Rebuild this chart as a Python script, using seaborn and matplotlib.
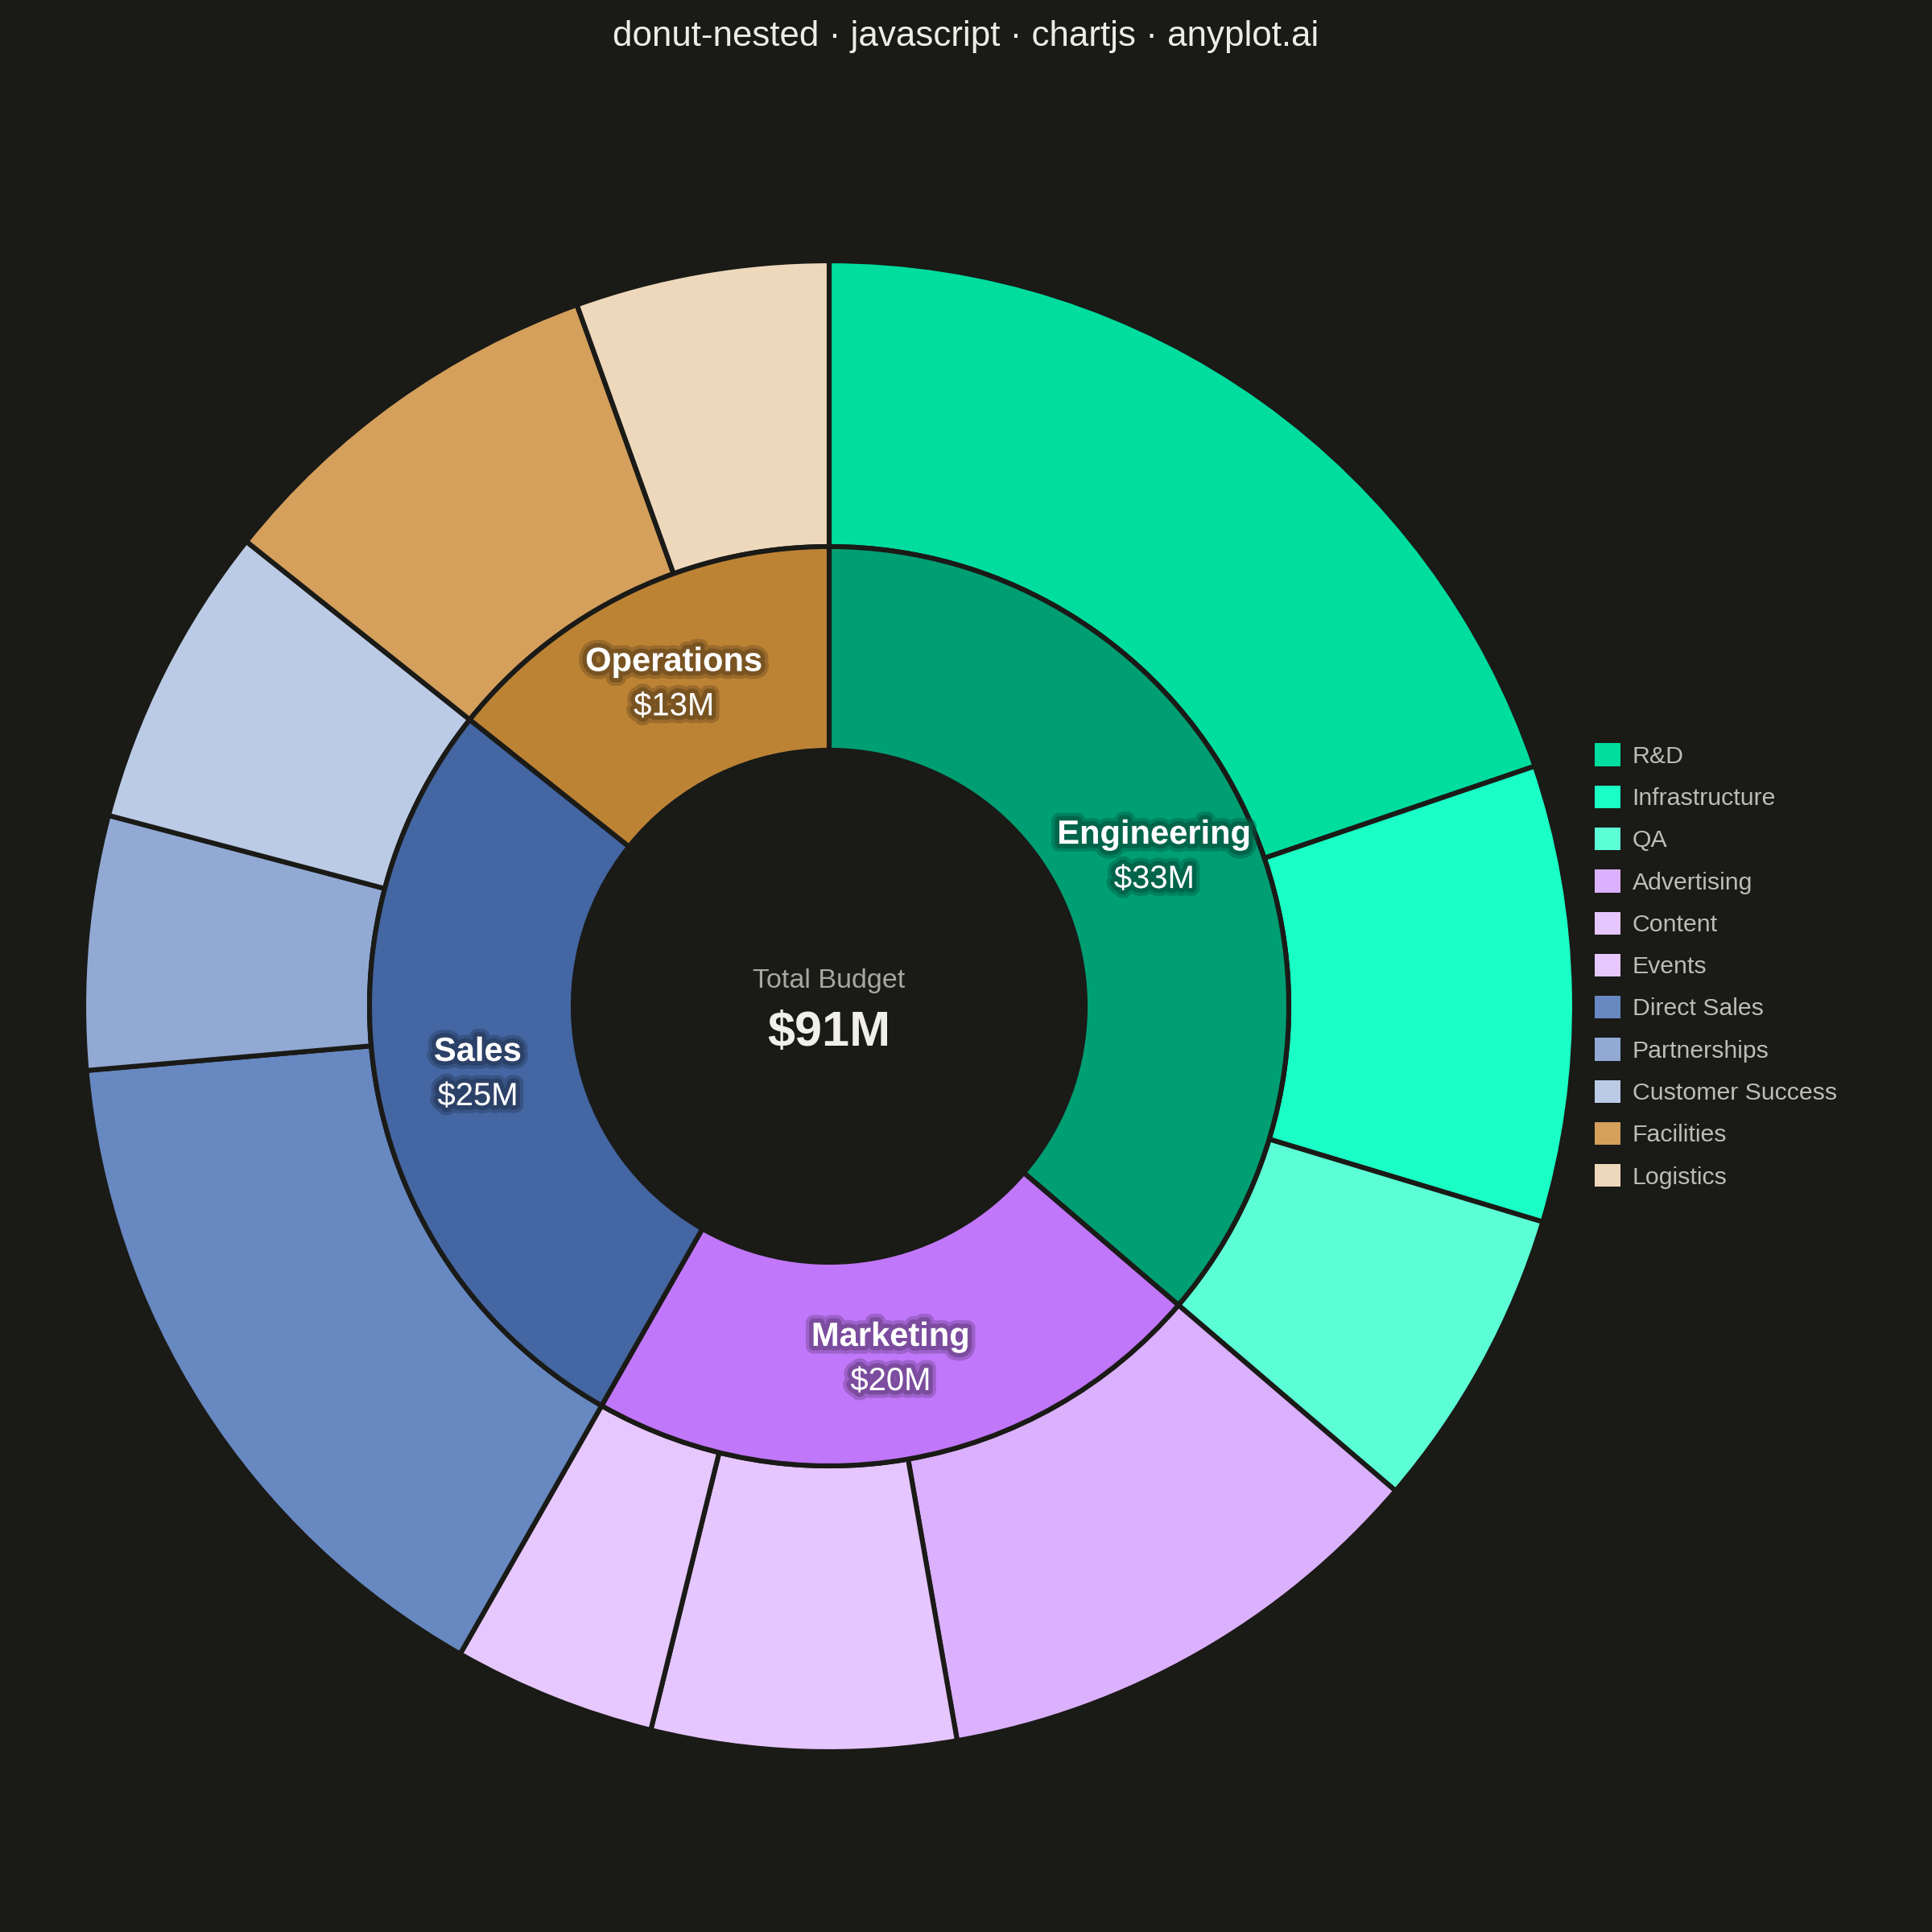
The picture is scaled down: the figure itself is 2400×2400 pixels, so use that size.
import numpy as np
import matplotlib
matplotlib.use("Agg")
import matplotlib.pyplot as plt
import matplotlib.patheffects as pe
from matplotlib.patches import Patch
import matplotlib.colors as mcolors
import seaborn as sns

# ---------------- data ----------------
departments = ["Engineering", "Marketing", "Sales", "Operations"]
dept_values = [33, 20, 25, 13]
subcategories = ["R&D", "Infrastructure", "QA",
                 "Advertising", "Content", "Events",
                 "Direct Sales", "Partnerships", "Customer Success",
                 "Facilities", "Logistics"]
sub_values = [18, 9, 6, 10, 6, 4, 14, 5, 6, 8, 5]

# ---------------- styles ----------------
BG = "#1A1A17"
dept_colors = ["#009E73", "#C177F9", "#4466A2", "#BD8335"]
sub_colors = ["#00DD9F", "#1AFFC5", "#5CFFD5",
              "#DBB0FC", "#E5C6FE", "#E6C7FE",
              "#6788C0", "#91A9D3", "#BBCBE5",
              "#D4A05C", "#EED8BC"]

sns.set_theme(style="dark", rc={"figure.facecolor": BG, "axes.facecolor": BG})
plt.rcParams["font.family"] = ["Liberation Sans", "DejaVu Sans"]

W = 2400
fig = plt.figure(figsize=(12, 12), dpi=200, facecolor=BG)
ax = fig.add_axes([0, 0, 1, 1])
ax.set_facecolor(BG)

cx, cy = 1030, 1150
R_out, R_mid, R_in = 926, 571, 318
lw = 2.2

ax.pie(sub_values, radius=R_out, center=(cx, cy), startangle=90,
       counterclock=False, colors=sub_colors, frame=True,
       wedgeprops=dict(width=R_out - R_mid, edgecolor=BG, linewidth=lw))
ax.pie(dept_values, radius=R_mid, center=(cx, cy), startangle=90,
       counterclock=False, colors=dept_colors, frame=True,
       wedgeprops=dict(width=R_mid - R_in, edgecolor=BG, linewidth=lw))

ax.set_xlim(0, W)
ax.set_ylim(0, W)
ax.set_aspect("equal")
ax.axis("off")

# department labels
total = sum(dept_values)
cum = np.cumsum([0] + dept_values)
r_lab = (R_mid + R_in) / 2
for name, val, c0, c1, col in zip(departments, dept_values, cum[:-1], cum[1:], dept_colors):
    theta = np.deg2rad((c0 + c1) / 2 / total * 360)
    x = cx + r_lab * np.sin(theta)
    y = cy + r_lab * np.cos(theta)
    dark = np.array(mcolors.to_rgb(col)) * 0.6
    effects = [pe.withStroke(linewidth=7, foreground=dark, alpha=0.45),
               pe.withStroke(linewidth=4, foreground=dark, alpha=0.8)]
    ax.text(x, y + 27, name, ha="center", va="center", fontsize=15,
            fontweight="bold", color="white", path_effects=effects)
    ax.text(x, y - 28, f"${val}M", ha="center", va="center", fontsize=14.4,
            color="white", path_effects=effects)

# center text
ax.text(cx, cy + 32, "Total Budget", ha="center", va="center",
        fontsize=12.3, color="#A8A8A0")
ax.text(cx, cy - 34, f"${total}M", ha="center", va="center",
        fontsize=22, fontweight="bold", color="#F0EFE8")

# title
fig.text(0.5, 1 - 46 / W, "donut-nested · javascript · chartjs · anyplot.ai",
         ha="center", va="center", fontsize=15.8, color="#EDEDE5")

# legend
handles = [Patch(facecolor=c, edgecolor="none") for c in sub_colors]
ax.legend(handles, subcategories, loc="center left",
          bbox_to_anchor=(1981 / W, 0.5), bbox_transform=fig.transFigure,
          frameon=False, fontsize=10.9, handlelength=1.06, handleheight=1.06,
          labelspacing=0.72, handletextpad=0.48, borderpad=0,
          borderaxespad=0, labelcolor="#BDBDB5")

fig.savefig("out.png", dpi=200, facecolor=BG)
